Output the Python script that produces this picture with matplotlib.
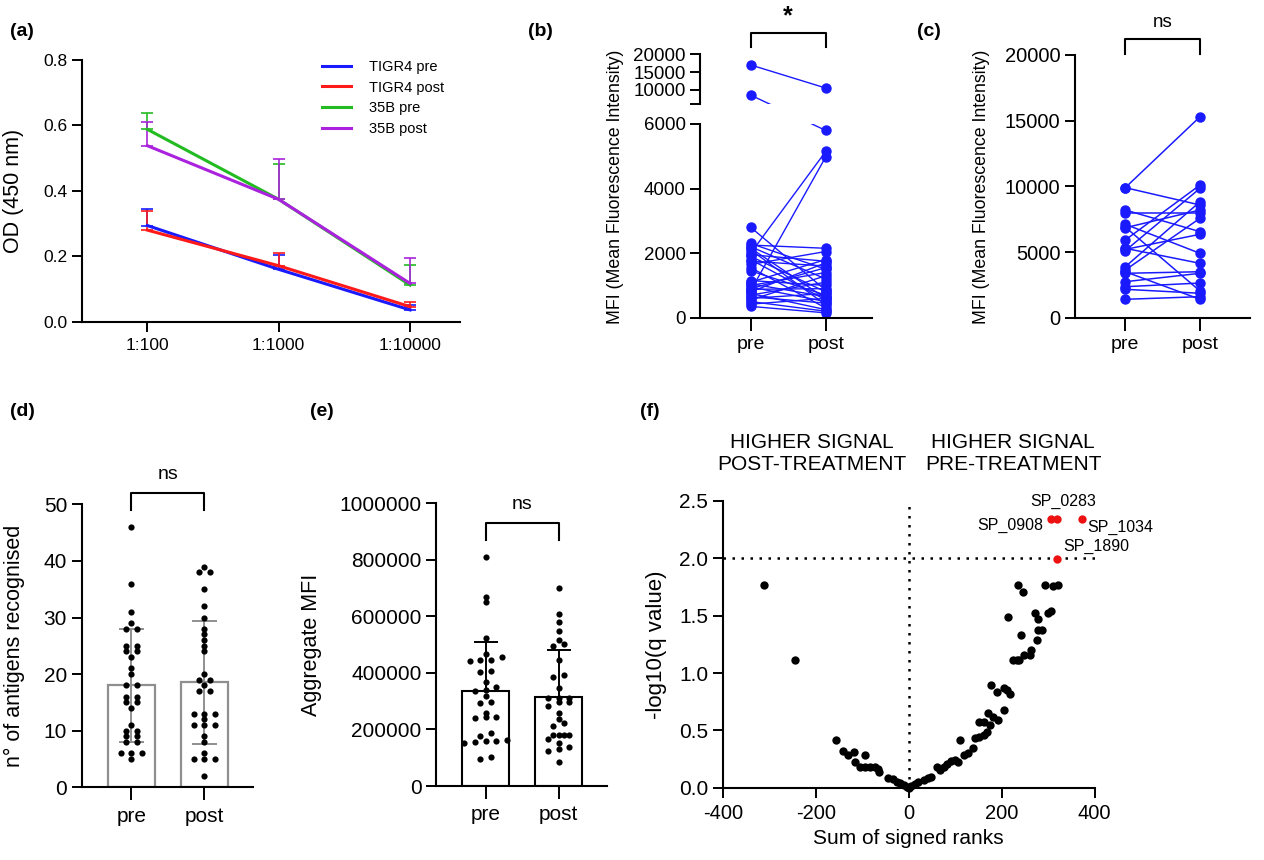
import numpy as np
import matplotlib
matplotlib.use('Agg')
import matplotlib.pyplot as plt
from matplotlib.patches import ConnectionPatch

plt.rcParams['font.family'] = ['Liberation Sans', 'DejaVu Sans']
plt.rcParams['axes.unicode_minus'] = False
plt.rcParams['axes.linewidth'] = 1.5
plt.rcParams['xtick.major.width'] = 1.4
plt.rcParams['ytick.major.width'] = 1.4
plt.rcParams['xtick.major.size'] = 7
plt.rcParams['ytick.major.size'] = 7

W, H = 1264, 860

# ---- (a) ELISA dilution curves
dilutions = ['1:100', '1:1000', '1:10000']
a_series = ['TIGR4 pre', 'TIGR4 post', '35B pre', '35B post']
a_colors = ['#1a1aff', '#ff1a1a', '#22bb22', '#aa22dd']
a_means = [[0.294, 0.160, 0.036],
           [0.280, 0.171, 0.046],
           [0.588, 0.374, 0.112],
           [0.538, 0.374, 0.117]]
a_upper = [[0.345, 0.204, 0.051],
           [0.339, 0.209, 0.059],
           [0.639, 0.483, 0.173],
           [0.611, 0.496, 0.194]]

# ---- (b) MFI pre/post (broken axis)
b_pre = [17000, 8500, 2800, 2000, 840, 2300, 2250, 2200, 2150, 2100, 1950,
         1900, 1800, 1750, 1650, 1550, 1450, 1150, 1100, 1050, 1000, 950,
         900, 880, 800, 750, 700, 650, 600, 550, 500, 420, 350]
b_post = [10500, 5800, 850, 5150, 4980, 1500, 2150, 1200, 600, 400, 1750,
          800, 550, 1600, 2050, 300, 700, 1000, 1800, 650, 1400, 500, 1550,
          900, 1700, 250, 1100, 450, 750, 1300, 200, 600, 150]

# ---- (c) MFI pre/post
c_pre = [9900, 9900, 8200, 7950, 7110, 6850, 6900, 5915, 5280, 5100, 5200,
         3880, 3630, 3380, 3500, 2740, 2360, 2160, 1400]
c_post = [15300, 8580, 6550, 7950, 4900, 8200, 2030, 10100, 4140, 9850, 6350,
          8830, 7570, 3500, 1400, 3380, 2640, 1860, 1600]

# ---- (d) number of antigens recognised
d_pre = [46, 36, 31, 29, 28, 28, 25, 25, 24, 24, 23, 21, 20, 18, 18, 16, 16,
         15, 15, 14, 11, 10, 10, 9, 9, 8, 8, 6, 6, 6, 5]
d_post = [39, 38, 38, 35, 32, 30, 28, 27, 26, 25, 24, 20, 19, 19, 18, 17, 17,
          13, 13, 13, 12, 11, 11, 11, 9, 8, 6, 5, 5, 5, 2]

# ---- (e) aggregate MFI
e_pre = [811000, 670000, 650000, 522000, 467000, 455000, 446000, 446000,
         443000, 407000, 402000, 369000, 349000, 340000, 337000, 317000,
         298000, 294000, 258000, 244000, 244000, 241000, 189000, 178000,
         164000, 160000, 160000, 155000, 151000, 104000, 94000]
e_post = [702000, 608000, 579000, 549000, 518000, 503000, 494000, 447000,
          393000, 386000, 348000, 313000, 311000, 310000, 297000, 297000,
          283000, 257000, 236000, 223000, 213000, 182000, 182000, 180000,
          180000, 167000, 151000, 137000, 130000, 125000, 84000]

# ---- (f) volcano
f_x = [-311, -245, -156, -142, -130, -118, -115, -105, -95, -93, -83, -72,
       -65, -63, -44, -33, -26, -19, -11, -4, 0, 6, 14, 21, 32, 41, 49, 60,
       67, 75, 82, 91, 100, 107, 110, 118, 128, 139, 143, 152, 152, 161, 163,
       168, 171, 175, 176, 182, 189, 193, 204, 205, 211, 214, 218, 225, 232,
       236, 238, 241, 245, 247, 261, 264, 272, 275, 277, 279, 286, 293, 300,
       305, 310, 320]
f_y = [1.77, 1.11, 0.416, 0.32, 0.285, 0.31, 0.227, 0.18, 0.285, 0.18, 0.18,
       0.18, 0.16, 0.14, 0.087, 0.076, 0.052, 0.038, 0.023, 0.01, 0.0, 0.015,
       0.03, 0.05, 0.07, 0.087, 0.096, 0.18, 0.154, 0.18, 0.21, 0.235, 0.24,
       0.22, 0.416, 0.285, 0.305, 0.343, 0.43, 0.575, 0.445, 0.46, 0.575,
       0.49, 0.65, 0.545, 0.895, 0.62, 0.837, 0.59, 0.866, 0.677, 0.852,
       1.49, 0.82, 1.113, 1.113, 1.767, 1.113, 1.33, 1.709, 1.157, 1.157,
       1.2, 1.526, 1.29, 1.375, 1.468, 1.375, 1.767, 1.52, 1.54, 1.76, 1.767]
sig_names = ['SP_0908', 'SP_0283', 'SP_1034', 'SP_1890']
sig_x = [305, 318, 372, 318]
sig_y = [2.343, 2.343, 2.343, 1.99]


def add_ax(l, t, r, b):
    return fig.add_axes([l / W, 1 - b / H, (r - l) / W, (b - t) / H])


def clean(ax):
    ax.spines['top'].set_visible(False)
    ax.spines['right'].set_visible(False)


def swarm(vals, tol, step):
    vals = np.asarray(vals, dtype=float)
    order = np.argsort(vals)
    offs = np.zeros(len(vals))
    rows, cur = [], [order[0]]
    for i in order[1:]:
        if vals[i] - vals[cur[0]] <= tol:
            cur.append(i)
        else:
            rows.append(cur)
            cur = [i]
    rows.append(cur)
    for r in rows:
        n = len(r)
        for k, i in enumerate(r):
            offs[i] = (k - (n - 1) / 2) * step
    return offs


def bracket(ax, y0, y1, text, ty, size=14, weight='normal'):
    tr = ax.get_xaxis_transform()
    ax.plot([0, 0, 1, 1], [y0, y1, y1, y0], color='black', lw=1.5,
            transform=tr, clip_on=False)
    ax.text(0.5, ty, text, transform=tr, ha='center', va='center',
            fontsize=size, fontweight=weight)


fig = plt.figure(figsize=(W / 100, H / 100), dpi=100)

# panel labels
for lab, x, y in [('(a)', 10, 31), ('(b)', 528, 31), ('(c)', 917, 31),
                  ('(d)', 10, 412), ('(e)', 310, 412), ('(f)', 640, 412)]:
    fig.text(x / W, 1 - y / H, lab, fontsize=14, fontweight='bold',
             ha='left', va='center')

# ================= (a)
ax = add_ax(81.7, 60, 460, 321.7)
clean(ax)
xa = np.arange(len(dilutions))
for name, col, m, u in zip(a_series, a_colors, a_means, a_upper):
    m = np.array(m)
    u = np.array(u)
    ax.errorbar(xa, m, yerr=[np.zeros_like(m), u - m], color=col, lw=2.2,
                elinewidth=1.2, capsize=4, capthick=1.2, label=name)
ax.set_xlim(-0.5, 2.38)
ax.set_ylim(0, 0.8)
ax.set_xticks(xa, dilutions, fontsize=12.5)
ax.set_yticks(np.arange(0, 0.81, 0.2))
ax.set_yticklabels([f'{v:.1f}' for v in np.arange(0, 0.81, 0.2)], fontsize=12.5)
ax.tick_params(axis='x', pad=5)
ax.set_ylabel('OD (450 nm)', fontsize=15.5)
ax.yaxis.set_label_coords(-0.152, 0.5)
hs, ls = ax.get_legend_handles_labels()
hs = [h[0] for h in hs]
ax.legend(hs, ls, loc='upper left', bbox_to_anchor=(0.635, 1.0),
          frameon=False, fontsize=10.5, handlelength=2.0, handletextpad=1.2,
          labelspacing=0.45, borderpad=0, borderaxespad=0)

# ================= (b)
blue = '#1a1aff'
brk = 6000
ax_bu = add_ax(700.3, 54.3, 872, 104)
ax_bl = add_ax(700.3, 124, 872, 317.7)
for a_ in (ax_bu, ax_bl):
    clean(a_)
    a_.set_xlim(-0.672, 1.617)
ax_bu.spines['bottom'].set_visible(False)
ax_bu.set_ylim(6000, 20000)
ax_bu.set_yticks([6000, 10000, 15000, 20000], ['', '10000', '15000', '20000'],
                 fontsize=13.5)
ax_bu.set_xticks([])
ax_bl.set_ylim(0, 6000)
ax_bl.set_yticks([0, 2000, 4000, 6000], ['0', '2000', '4000', '6000'],
                 fontsize=13.5)
ax_bl.set_xticks([0, 1], ['pre', 'post'], fontsize=14)
ax_bl.tick_params(axis='x', length=9, pad=4)
for p, q in zip(b_pre, b_post):
    ap = ax_bu if p >= brk else ax_bl
    aq = ax_bu if q >= brk else ax_bl
    if ap is aq:
        ap.plot([0, 1], [p, q], color=blue, lw=1.0)
    else:
        # straight line across the break, hidden in the gap
        for a_ in (ax_bu, ax_bl):
            con = ConnectionPatch(xyA=(0, p), coordsA='data', axesA=ap,
                                  xyB=(1, q), coordsB='data', axesB=aq,
                                  color=blue, lw=1.0, shrinkA=0, shrinkB=0,
                                  arrowstyle='-', annotation_clip=False)
            fig.add_artist(con)
            con.set_clip_on(True)
            con.set_clip_path(a_.patch)
for a_, sel in ((ax_bu, lambda v: v >= brk), (ax_bl, lambda v: v < brk)):
    pv = [v for v in b_pre if sel(v)]
    qv = [v for v in b_post if sel(v)]
    a_.plot([0] * len(pv), pv, 'o', color=blue, ms=6.5, clip_on=False)
    a_.plot([1] * len(qv), qv, 'o', color=blue, ms=6.5, clip_on=False)
bracket(ax_bu, 1.153, 1.42, '*', 1.76, size=18, weight='bold')
fig.text(615 / W, 1 - 186.7 / H, 'MFI (Mean Fluorescence Intensity)',
         rotation=90, ha='center', va='center', fontsize=12.8)

# ================= (c)
ax = add_ax(1075, 55, 1250, 317.7)
clean(ax)
for p, q in zip(c_pre, c_post):
    ax.plot([0, 1], [p, q], color=blue, lw=1.1)
ax.plot([0] * len(c_pre), c_pre, 'o', color=blue, ms=6.5, clip_on=False)
ax.plot([1] * len(c_post), c_post, 'o', color=blue, ms=6.5, clip_on=False)
ax.set_xlim(-0.673, 1.669)
ax.set_ylim(0, 20000)
ax.set_yticks([0, 5000, 10000, 15000, 20000],
              ['0', '5000', '10000', '15000', '20000'], fontsize=14.5)
ax.set_xticks([0, 1], ['pre', 'post'], fontsize=14)
ax.tick_params(axis='x', length=9, pad=4)
ax.set_ylabel('MFI (Mean Fluorescence Intensity)', fontsize=12.8)
ax.yaxis.set_label_coords(-0.486, 0.5)
bracket(ax, 1.003, 1.06, 'ns', 1.123, size=13.5)

# ================= (d)
gray = '#8f8f8f'
ax = add_ax(81.7, 504.3, 253.3, 787.3)
clean(ax)
for i, vals in enumerate((d_pre, d_post)):
    vals = np.array(vals, dtype=float)
    m, s = vals.mean(), vals.std(ddof=1)
    ax.bar(i, m, width=0.65, color='white', edgecolor=gray, lw=1.6, zorder=1)
    ax.errorbar(i, m, yerr=s, fmt='none', ecolor=gray, elinewidth=1.4,
                capsize=9, capthick=1.4, zorder=2)
    ax.scatter(i + swarm(vals, 0.5, 0.147), vals, s=20, color='black',
               zorder=3, clip_on=False, linewidths=0)
ax.set_xlim(-0.68, 1.67)
ax.set_ylim(0, 50)
ax.set_yticks(np.arange(0, 51, 10))
ax.tick_params(axis='y', labelsize=15)
ax.set_xticks([0, 1], ['pre', 'post'], fontsize=15)
ax.tick_params(axis='x', length=9, pad=5)
ax.set_ylabel('n° of antigens recognised', fontsize=15.5)
ax.yaxis.set_label_coords(-0.33, 0.5)
bracket(ax, 0.98, 1.041, 'ns', 1.107, size=14)

# ================= (e)
ax = add_ax(436, 503.3, 606.7, 786)
clean(ax)
for i, vals in enumerate((e_pre, e_post)):
    vals = np.array(vals, dtype=float)
    m, s = vals.mean(), vals.std(ddof=1)
    ax.bar(i, m, width=0.65, color='white', edgecolor='black', lw=1.5,
           zorder=1)
    ax.errorbar(i, m, yerr=[[0], [s]], fmt='none', ecolor='black',
                elinewidth=1.4, capsize=8.5, capthick=1.4, zorder=2)
    ax.scatter(i + swarm(vals, 14000, 0.147), vals, s=20, color='black',
               zorder=3, clip_on=False, linewidths=0)
ax.set_xlim(-0.68, 1.66)
ax.set_ylim(0, 1000000)
yt = np.arange(0, 1000001, 200000)
ax.set_yticks(yt, [str(v) for v in yt], fontsize=15)
ax.set_xticks([0, 1], ['pre', 'post'], fontsize=15)
ax.tick_params(axis='x', length=9, pad=5)
ax.set_ylabel('Aggregate MFI', fontsize=15.5)
ax.yaxis.set_label_coords(-0.67, 0.5)
bracket(ax, 0.870, 0.929, 'ns', 0.994, size=14)

# ================= (f)
ax = add_ax(722.7, 501, 1094.7, 787.7)
clean(ax)
ax.axvline(0, color='black', lw=1.8, ls=(0, (1, 2.6)), zorder=1)
ax.axhline(2.0, color='black', lw=1.8, ls=(0, (1, 2.6)), zorder=1)
ax.scatter(f_x, f_y, s=36, color='black', zorder=3, clip_on=False,
           linewidths=0)
ax.scatter(sig_x, sig_y, s=36, color='#ee1111', zorder=3, linewidths=0)
lab_pos = {'SP_0908': (290, 2.29, 'right'), 'SP_0283': (333, 2.5, 'center'),
           'SP_1034': (385, 2.27, 'left'), 'SP_1890': (333, 2.1, 'left')}
for nm in sig_names:
    tx, ty, ha = lab_pos[nm]
    ax.text(tx, ty, nm, ha=ha, va='center', fontsize=11.5)
ax.set_xlim(-400, 400)
ax.set_ylim(0, 2.5)
ax.set_xticks([-400, -200, 0, 200, 400])
ax.tick_params(axis='x', labelsize=14.5, length=7, pad=5)
yt = np.arange(0, 2.51, 0.5)
ax.set_yticks(yt, [f'{v:.1f}' for v in yt], fontsize=15)
ax.set_xlabel('Sum of signed ranks', fontsize=15)
ax.set_ylabel('-log10(q value)', fontsize=16)
ax.yaxis.set_label_coords(-0.15, 0.5)
fig.text(811.7 / W, 1 - 454 / H, 'HIGHER SIGNAL\nPOST-TREATMENT',
         ha='center', va='center', fontsize=15, linespacing=1.2)
fig.text(1013 / W, 1 - 454 / H, 'HIGHER SIGNAL\nPRE-TREATMENT',
         ha='center', va='center', fontsize=15, linespacing=1.2)

fig.savefig('out.png', dpi=100)
